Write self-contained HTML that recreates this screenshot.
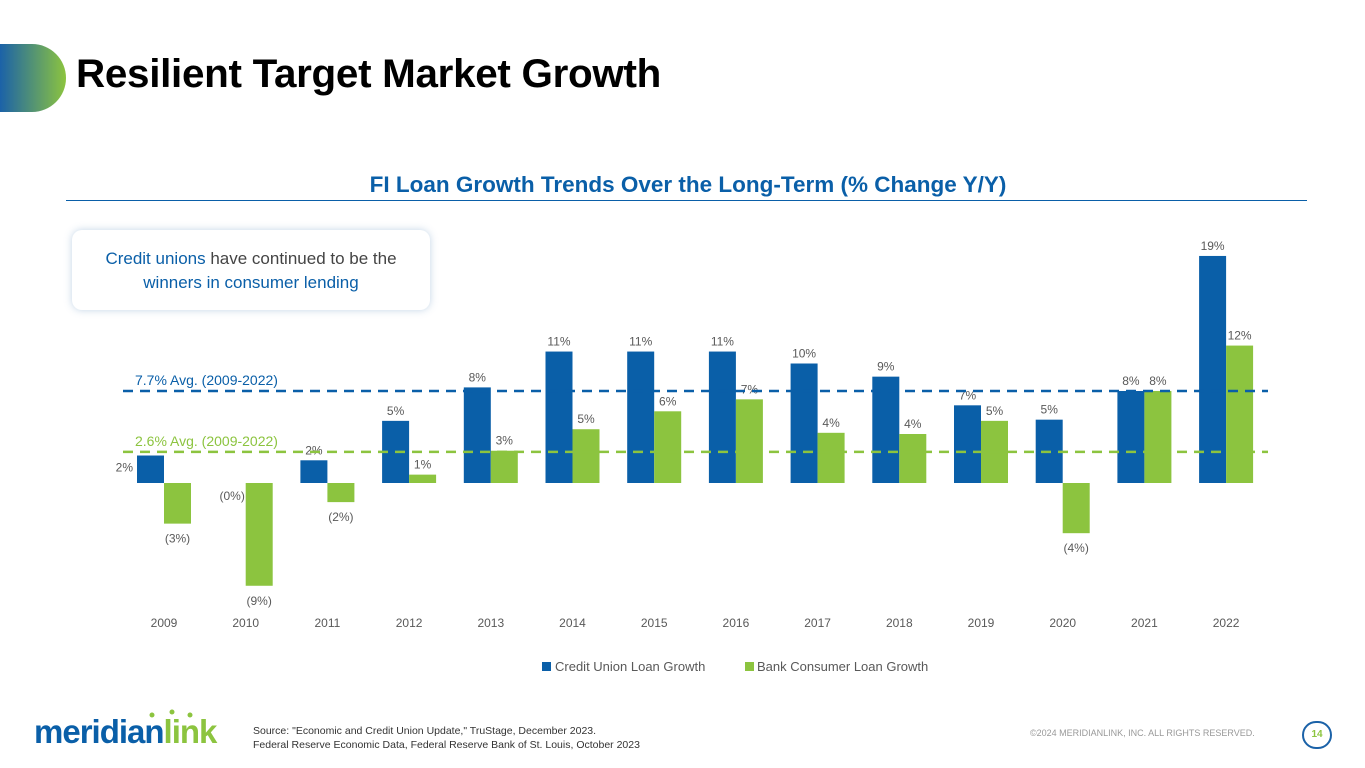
<!DOCTYPE html>
<html><head><meta charset="utf-8">
<style>
body{margin:0;width:1365px;height:768px;overflow:hidden;background:#fff;font-family:"Liberation Sans",sans-serif;position:relative}
.abs{position:absolute}
</style></head>
<body>
<div class="abs" style="left:0;top:44px;width:66px;height:68px;border-radius:0 34px 34px 0;background:linear-gradient(90deg,#1b62a8,#8cc43f)"></div>
<div class="abs" style="left:76px;top:52px;font-size:40px;font-weight:bold;color:#000;letter-spacing:-0.3px;transform:scaleX(1.01);transform-origin:left">Resilient Target Market Growth</div>
<div class="abs" style="left:0;width:1376px;top:172px;text-align:center;font-size:22.5px;font-weight:bold;color:#0a5fa8">FI Loan Growth Trends Over the Long-Term (% Change Y/Y)</div>
<div class="abs" style="left:66px;top:200px;width:1241px;height:1px;background:#0a5fa8"></div>
<div class="abs" style="left:72px;top:230px;width:358px;height:80px;border-radius:10px;background:#fff;box-shadow:0 0 8px rgba(120,160,200,0.45);text-align:center;font-size:17px;line-height:24px;color:#444;box-sizing:border-box;padding-top:17px"><span style="color:#0a5fa8">Credit unions</span> have continued to be the<br><span style="color:#0a5fa8">winners in consumer lending</span></div>
<svg class="abs" style="left:0;top:0" width="1365" height="768" id="chart"></svg>
<div class="abs" style="left:34px;top:713px;font-size:33px;font-weight:bold;color:#0a5fa8;letter-spacing:-1px">meridian<span style="color:#8cc43f">link</span></div>
<div class="abs" style="left:253px;top:724px;font-size:10.5px;line-height:14px;color:#333">Source: "Economic and Credit Union Update," TruStage, December 2023.<br>Federal Reserve Economic Data, Federal Reserve Bank of St. Louis, October 2023</div>
<div class="abs" style="left:1030px;top:728px;font-size:9px;color:#999">©2024 MERIDIANLINK, INC. ALL RIGHTS RESERVED.</div>
<div class="abs" style="left:1302px;top:721px;width:26px;height:24px;border:2px solid #1b62a8;border-radius:14px;text-align:center;line-height:24px;font-size:10px;font-weight:bold;color:#8cc43f">14</div>
<script>
const years=["2009","2010","2011","2012","2013","2014","2015","2016","2017","2018","2019","2020","2021","2022"];
const cuValues=[2.3,0,1.9,5.2,8,11,11,11,10,8.9,6.5,5.3,7.7,19];
const bankValues=[-3.4,-8.6,-1.6,0.7,2.7,4.5,6,7,4.2,4.1,5.2,-4.2,7.7,11.5];
const cuLabels=["2%","(0%)","2%","5%","8%","11%","11%","11%","10%","9%","7%","5%","8%","19%"];
const bankLabels=["(3%)","(9%)","(2%)","1%","3%","5%","6%","7%","4%","4%","5%","(4%)","8%","12%"];
const avgCU=7.7, avgBank=2.6;
const NS="http://www.w3.org/2000/svg";
const svg=document.getElementById('chart');
const y0=483, ppu=11.95, x0=164, step=81.7, bw=27;
const y=v=>y0-v*ppu, xc=i=>x0+i*step;
function mk(t,a){const e=document.createElementNS(NS,t);for(const k in a)e.setAttribute(k,a[k]);svg.appendChild(e);return e;}
function txt(s,x,yy,fill,size,anchor){const t=mk('text',{x:x,y:yy,fill:fill,'font-size':size,'text-anchor':anchor||'middle','font-family':'Liberation Sans, sans-serif'});t.textContent=s;return t;}
years.forEach((yr,i)=>{
  const c=xc(i);
  const v1=cuValues[i], v2=bankValues[i];
  const b1=mk('rect',{x:c-bw,y:Math.min(y(v1),y0),width:bw,height:Math.abs(y(v1)-y0),fill:'#0a5fa8'});
  
  
  const b2=mk('rect',{x:c,y:Math.min(y(v2),y0),width:bw,height:Math.abs(y(v2)-y0),fill:'#8cc43f'});
  
  
  let l1;
  if(i===0) l1=txt(cuLabels[i],c-bw-4,y(v1)+16,'#595959',12,'end');
  else l1=txt(cuLabels[i],c-bw/2,v1>0?y(v1)-6:y0+17,'#595959',12);
  
  
  const l2=txt(bankLabels[i],c+bw/2,v2>=0?y(v2)-6:y(v2)+19,'#595959',12);
  
  
  const t=txt(yr,c,627,'#595959',12);
  
  
});
const a1=mk('line',{x1:123,x2:1268,y1:y(avgCU),y2:y(avgCU),stroke:'#0a5fa8','stroke-width':2.5,'stroke-dasharray':'10 7'});


const a2=mk('line',{x1:123,x2:1268,y1:y(avgBank),y2:y(avgBank),stroke:'#8cc43f','stroke-width':2.5,'stroke-dasharray':'10 7'});


const t1=txt(avgCU+'% Avg. (2009-2022)',135,y(avgCU)-6,'#0a5fa8',14,'start');


const t2=txt(avgBank+'% Avg. (2009-2022)',135,y(avgBank)-6,'#8cc43f',14,'start');


const lg1=mk('rect',{x:542,y:662,width:9,height:9,fill:'#0a5fa8'});


const lt1=txt('Credit Union Loan Growth',555,671,'#595959',13,'start');


const lg2=mk('rect',{x:745,y:662,width:9,height:9,fill:'#8cc43f'});


const lt2=txt('Bank Consumer Loan Growth',757,671,'#595959',13,'start');


[152,172,190].forEach((x,k)=>{const d=mk('circle',{cx:x,cy:715+(k===1?-3:0),r:2.5,fill:'#8cc43f'});});
</script>
</body></html>
